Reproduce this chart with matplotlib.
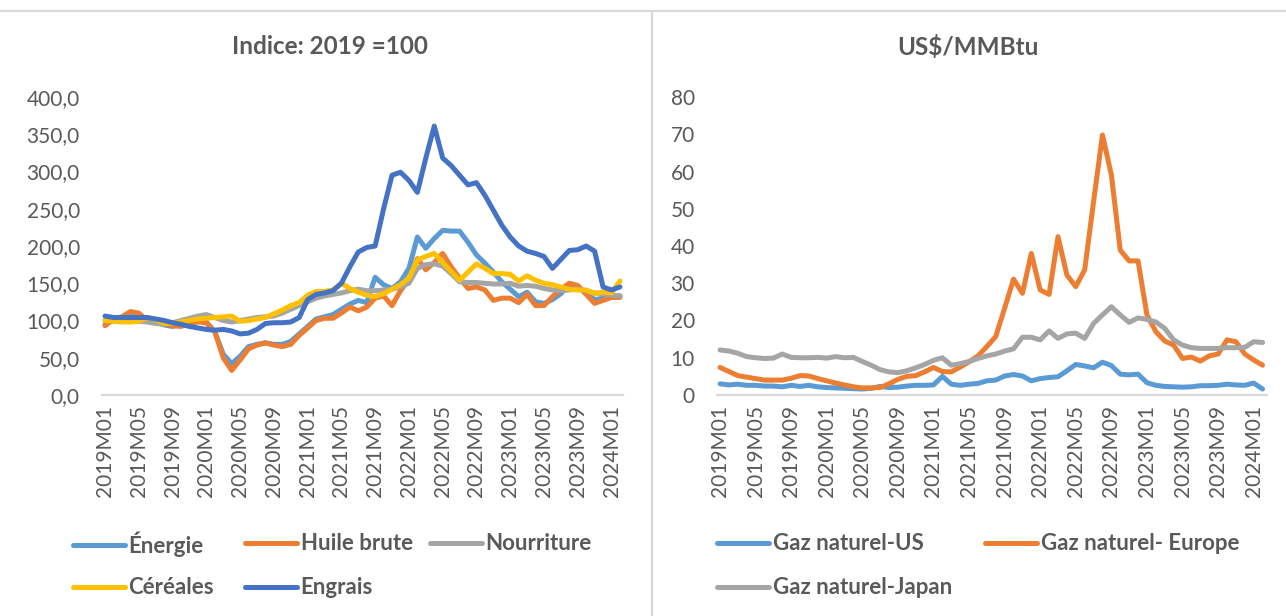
import matplotlib
matplotlib.use("Agg")
import matplotlib.pyplot as plt
from matplotlib.lines import Line2D
from matplotlib.ticker import FuncFormatter, MultipleLocator

W, H = 1286, 616
plt.rcParams['font.family'] = ['Lato', 'DejaVu Sans']

months = [f"{2019 + i // 12}M{i % 12 + 1:02d}" for i in range(62)]

energie = [95, 100, 103, 108, 106, 100, 98, 94, 92, 95, 98, 100, 98, 85, 55, 42, 52, 65, 68, 70,
           68, 68, 72, 82, 92, 102, 105, 108, 115, 122, 127, 124, 158, 148, 143, 152, 170, 212, 197, 210,
           221, 220, 220, 205, 188, 177, 165, 152, 142, 132, 138, 125, 123, 128, 136, 148, 145, 138, 128, 130,
           132, 133]
huile = [93, 102, 105, 112, 110, 100, 98, 96, 93, 92, 96, 98, 97, 85, 50, 33, 47, 62, 67, 70,
         67, 65, 68, 80, 90, 100, 103, 103, 110, 118, 113, 118, 130, 133, 120, 140, 155, 183, 168, 178,
         190, 172, 157, 143, 145, 141, 127, 130, 130, 124, 135, 120, 120, 132, 142, 150, 147, 135, 123, 127,
         131, 131]
nourriture = [100, 101, 100, 99, 99, 98, 96, 95, 97, 100, 103, 106, 108, 104, 100, 98, 100, 102, 104, 105,
              106, 110, 115, 120, 125, 130, 133, 135, 137, 140, 142, 140, 140, 141, 142, 145, 150, 170, 175, 176,
              173, 163, 152, 151, 151, 150, 149, 149, 150, 146, 147, 146, 143, 141, 140, 141, 142, 140, 137, 136,
              134, 133]
cereales = [100, 99, 98, 98, 99, 104, 101, 96, 96, 98, 100, 102, 103, 104, 105, 106, 99, 100, 102, 104,
            109, 114, 120, 124, 134, 139, 139, 141, 150, 143, 138, 134, 132, 136, 142, 148, 157, 181, 186, 190,
            178, 166, 154, 165, 176, 170, 163, 163, 162, 153, 160, 154, 150, 148, 145, 142, 141, 141, 136, 138,
            137, 153]
engrais = [106, 104, 104, 104, 104, 104, 102, 100, 97, 95, 92, 90, 88, 87, 88, 86, 82, 83, 88, 96,
           97, 97, 98, 104, 128, 135, 137, 140, 150, 172, 192, 198, 200, 250, 295, 299, 288, 272, 318, 361,
           318, 308, 295, 282, 285, 268, 248, 228, 212, 200, 193, 190, 186, 170, 182, 194, 195, 200, 193, 145,
           141, 145]

gaz_us = [3.0, 2.7, 2.9, 2.6, 2.6, 2.4, 2.4, 2.2, 2.6, 2.3, 2.6, 2.2, 2.0, 1.9, 1.8, 1.7, 1.6, 1.8, 2.3, 2.0,
          2.1, 2.4, 2.6, 2.6, 2.7, 5.0, 2.9, 2.6, 2.9, 3.1, 3.8, 4.0, 5.1, 5.5, 5.1, 3.8, 4.4, 4.7, 4.9, 6.5,
          8.2, 7.8, 7.3, 8.8, 7.9, 5.6, 5.4, 5.6, 3.3, 2.6, 2.3, 2.2, 2.1, 2.2, 2.5, 2.5, 2.6, 2.9, 2.7, 2.6,
          3.2, 1.6]
gaz_europe = [7.4, 6.3, 5.2, 4.8, 4.4, 4.0, 4.0, 4.0, 4.5, 5.2, 5.1, 4.4, 3.8, 3.2, 2.7, 2.2, 1.9, 1.9, 2.0, 3.0,
              4.2, 5.0, 5.2, 6.2, 7.4, 6.3, 6.2, 7.5, 8.9, 10.5, 13.0, 15.7, 23.3, 31.1, 27.3, 38.0, 28.2, 27.0, 42.5, 32.2,
              29.1, 33.6, 51.9, 69.8, 59.1, 38.9, 36.0, 36.0, 21.5, 17.0, 14.5, 13.4, 9.8, 10.2, 9.1, 10.5, 11.0, 14.8, 14.3, 11.0,
              9.4, 8.0]
gaz_japan = [12.1, 11.8, 11.2, 10.3, 10.0, 9.8, 9.9, 11.0, 10.1, 10.0, 10.0, 10.1, 9.9, 10.3, 10.0, 10.1, 9.0, 8.0, 6.8, 6.2,
             6.0, 6.5, 7.3, 8.2, 9.3, 10.0, 8.0, 8.4, 9.0, 9.8, 10.5, 11.0, 11.8, 12.4, 15.5, 15.5, 14.8, 17.2, 15.2, 16.4,
             16.6, 15.2, 19.2, 21.5, 23.7, 21.5, 19.5, 20.7, 20.3, 19.6, 17.9, 14.8, 13.4, 12.7, 12.5, 12.5, 12.5, 12.7, 12.7, 12.8,
             14.3, 14.1]

left_series = [("Énergie", energie, "#5B9BD5"), ("Huile brute", huile, "#ED7D31"),
               ("Nourriture", nourriture, "#A5A5A5"), ("Céréales", cereales, "#FFC000"),
               ("Engrais", engrais, "#4472C4")]
right_series = [("Gaz naturel-US", gaz_us, "#5B9BD5"), ("Gaz naturel- Europe", gaz_europe, "#ED7D31"),
                ("Gaz naturel-Japan", gaz_japan, "#A5A5A5")]

TXT = "#595959"
GRID = "#D9D9D9"
LW = 3.6

fig = plt.figure(figsize=(W / 100, H / 100), dpi=100)


def px_box(x0, x1, ytop, ybot):
    return [x0 / W, 1 - ybot / H, (x1 - x0) / W, (ybot - ytop) / H]


def style_axis(ax, ylim, step, fmt, xlim):
    ax.set_ylim(*ylim)
    ax.set_xlim(*xlim)
    ax.yaxis.set_major_locator(MultipleLocator(step))
    ax.yaxis.set_major_formatter(FuncFormatter(fmt))
    for s in ("left", "right", "top"):
        ax.spines[s].set_visible(False)
    ax.spines["bottom"].set_color(GRID)
    ax.spines["bottom"].set_linewidth(1.6)
    ax.set_xticks(range(0, len(months), 4))
    ax.set_xticklabels(months[::4], rotation=90, va="top", ha="center")
    ax.tick_params(axis="both", length=0, colors=TXT, labelsize=15)
    ax.tick_params(axis="y", pad=16)
    ax.tick_params(axis="x", pad=7)
    ax.patch.set_alpha(0)


x = list(range(len(months)))

axL = fig.add_axes(px_box(102, 623, 97, 395))
for name, vals, col in left_series:
    axL.plot(x, vals, color=col, lw=LW, solid_joinstyle="round", solid_capstyle="round")
style_axis(axL, (0, 400), 50, lambda v, p: f"{v:.1f}".replace(".", ","), (-0.36, 61.36))

axR = fig.add_axes(px_box(717, 1267, 97, 395))
for name, vals, col in right_series:
    axR.plot(x, vals, color=col, lw=LW, solid_joinstyle="round", solid_capstyle="round")
style_axis(axR, (0, 80), 10, lambda v, p: f"{v:.0f}", (-0.34, 61.5))

fig.text(330 / W, 1 - 47 / H, "Indice: 2019 =100", ha="center", va="center",
         fontsize=17.5, fontweight="bold", color=TXT)
fig.text(968 / W, 1 - 47 / H, "US$/MMBtu", ha="center", va="center",
         fontsize=17.5, fontweight="bold", color=TXT)


def legend_entry(col, label, xp, yp):
    h = Line2D([0], [0], color=col, lw=LW, solid_capstyle="round")
    leg = fig.legend([h], [label], loc="center left", bbox_to_anchor=(xp / W, 1 - yp / H),
                     frameon=False, borderpad=0, borderaxespad=0, handlelength=2.35,
                     handletextpad=0.15, prop={"size": 16, "weight": "bold"})
    for t in leg.get_texts():
        t.set_color(TXT)


left_pos = [(73, 544), (245, 544), (430, 544), (73, 588), (245, 588)]
for (name, vals, col), (xp, yp) in zip(left_series, left_pos):
    legend_entry(col, name, xp, yp)
right_pos = [(717, 544), (985, 544), (717, 588)]
for (name, vals, col), (xp, yp) in zip(right_series, right_pos):
    legend_entry(col, name, xp, yp)

# chart-area borders
fig.add_artist(Line2D([0, 1], [1 - 11 / H, 1 - 11 / H], color=GRID, lw=1.6, transform=fig.transFigure))
fig.add_artist(Line2D([652 / W, 652 / W], [0, 1 - 11 / H], color=GRID, lw=1.6, transform=fig.transFigure))

fig.savefig("out.png", dpi=100)
